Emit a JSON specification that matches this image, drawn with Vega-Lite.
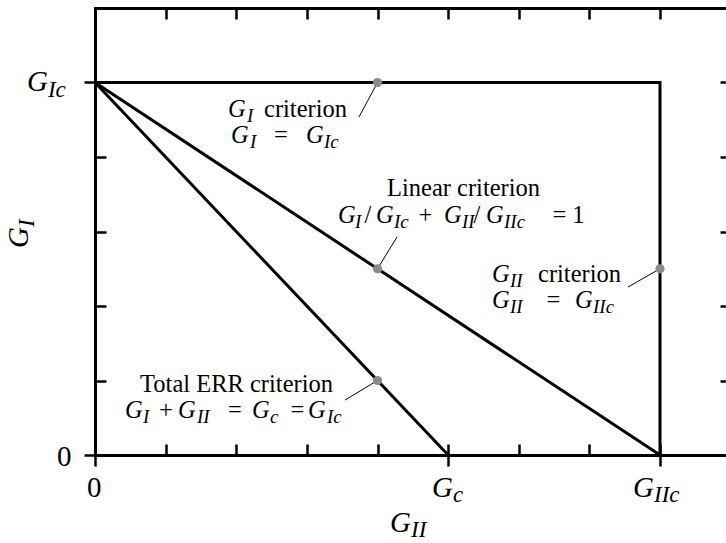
{
  "$schema": "https://vega.github.io/schema/vega-lite/v6.json",
  "width": 631,
  "height": 447,
  "autosize": {"type": "none"},
  "padding": {"left": 95, "top": 8, "right": 0, "bottom": 88},
  "background": "white",
  "config": {
    "font": "Liberation Serif",
    "view": {"stroke": null},
    "axis": {"grid": false, "labels": false, "domainColor": "black", "tickColor": "black", "domainWidth": 3, "tickWidth": 2.5, "domainCap": "square"},
    "text": {"font": "Liberation Serif", "fill": "black"}
  },
  "datasets": {
    "paths": [
      {"path": "GI and GII criteria", "k": 0, "x": 0, "y": 5},
      {"path": "GI and GII criteria", "k": 1, "x": 8, "y": 5},
      {"path": "GI and GII criteria", "k": 2, "x": 8, "y": 0},
      {"path": "Linear criterion", "k": 0, "x": 0, "y": 5},
      {"path": "Linear criterion", "k": 1, "x": 8, "y": 0},
      {"path": "Total ERR criterion", "k": 0, "x": 0, "y": 5},
      {"path": "Total ERR criterion", "k": 1, "x": 5, "y": 0}
    ],
    "markers": [
      {"x": 4, "y": 5},
      {"x": 4, "y": 2.5},
      {"x": 4, "y": 1},
      {"x": 8, "y": 2.5}
    ],
    "leaders": [
      {"x": 4, "y": 5, "x2": 3.738, "y2": 4.537},
      {"x": 4, "y": 2.5, "x2": 4.276, "y2": 2.926},
      {"x": 8, "y": 2.5, "x2": 7.547, "y2": 2.255},
      {"x": 4, "y": 1, "x2": 3.54, "y2": 0.738}
    ],
    "words": [
      {"x": 2.393, "y": 4.537, "t": "criterion"},
      {"x": 6.273, "y": 2.322, "t": "criterion"}
    ],
    "operators": [
      {"x": 2.634, "y": 4.188, "t": "="},
      {"x": 3.865, "y": 3.114, "t": "/"},
      {"x": 4.68, "y": 3.114, "t": "+"},
      {"x": 5.409, "y": 3.114, "t": "/"},
      {"x": 6.577, "y": 3.114, "t": "="},
      {"x": 6.846, "y": 3.114, "t": "1"},
      {"x": 6.492, "y": 1.973, "t": "="},
      {"x": 1.005, "y": 0.497, "t": "+"},
      {"x": 1.982, "y": 0.497, "t": "="},
      {"x": 2.867, "y": 0.497, "t": "="},
      {"x": 5.218, "y": 3.477, "t": "Linear criterion"},
      {"x": 2.004, "y": 0.846, "t": "Total ERR criterion"}
    ],
    "italic": [
      {"x": 1.883, "y": 4.537, "t": "G"},
      {"x": 1.926, "y": 4.188, "t": "G"},
      {"x": 2.988, "y": 4.188, "t": "G"},
      {"x": 3.441, "y": 3.114, "t": "G"},
      {"x": 3.979, "y": 3.114, "t": "G"},
      {"x": 4.942, "y": 3.114, "t": "G"},
      {"x": 5.536, "y": 3.114, "t": "G"},
      {"x": 5.621, "y": 2.322, "t": "G"},
      {"x": 5.621, "y": 1.973, "t": "G"},
      {"x": 6.796, "y": 1.973, "t": "G"},
      {"x": 0.425, "y": 0.497, "t": "G"},
      {"x": 1.175, "y": 0.497, "t": "G"},
      {"x": 2.223, "y": 0.497, "t": "G"},
      {"x": 3.016, "y": 0.497, "t": "G"}
    ],
    "subscripts": [
      {"x": 2.152, "y": 4.47, "t": "I"},
      {"x": 2.195, "y": 4.121, "t": "I"},
      {"x": 3.242, "y": 4.121, "t": "Ic"},
      {"x": 3.681, "y": 3.047, "t": "I"},
      {"x": 4.234, "y": 3.047, "t": "Ic"},
      {"x": 5.197, "y": 3.047, "t": "II"},
      {"x": 5.791, "y": 3.047, "t": "IIc"},
      {"x": 5.876, "y": 2.255, "t": "II"},
      {"x": 5.876, "y": 1.906, "t": "II"},
      {"x": 7.051, "y": 1.906, "t": "IIc"},
      {"x": 0.68, "y": 0.43, "t": "I"},
      {"x": 1.444, "y": 0.43, "t": "II"},
      {"x": 2.478, "y": 0.43, "t": "c"},
      {"x": 3.285, "y": 0.43, "t": "Ic"}
    ],
    "axisItalic": [
      {"x": -0.963, "y": 4.886, "t": "G"},
      {"x": 4.772, "y": -0.564, "t": "G"},
      {"x": 7.618, "y": -0.564, "t": "G"},
      {"x": 4.177, "y": -1.034, "t": "G"}
    ],
    "axisSubscripts": [
      {"x": -0.666, "y": 4.805, "t": "Ic"},
      {"x": 5.069, "y": -0.631, "t": "c"},
      {"x": 7.915, "y": -0.631, "t": "IIc"},
      {"x": 4.474, "y": -1.101, "t": "II"}
    ],
    "axisUpright": [
      {"x": -0.538, "y": -0.148, "t": "0"},
      {"x": -0.113, "y": -0.564, "t": "0"}
    ],
    "yTitle": [{"x": -0.949, "y": 2.779, "t": "G"}],
    "yTitleSub": [{"x": -0.864, "y": 3.06, "t": "I"}]
  },
  "resolve": {"axis": {"x": "independent", "y": "independent"}},
  "layer": [
    {
      "data": {"name": "paths"},
      "mark": {"type": "line", "color": "black", "strokeWidth": 3, "strokeJoin": "miter"},
      "encoding": {
        "x": {"field": "x", "type": "quantitative", "scale": {"domain": [0, 8.9345], "nice": false, "zero": false},
              "axis": {"orient": "bottom", "values": [0, 1, 2, 3, 4, 5, 6, 7, 8], "tickSize": -11, "title": null}},
        "y": {"field": "y", "type": "quantitative", "scale": {"domain": [0, 6], "nice": false, "zero": false},
              "axis": {"orient": "left", "values": [0, 1, 2, 3, 4, 5, 6], "tickSize": -11, "title": null}},
        "detail": {"field": "path"},
        "order": {"field": "k"}
      }
    },
    {
      "data": {"name": "leaders"},
      "mark": {"type": "rule", "color": "black", "strokeWidth": 1},
      "encoding": {
        "x": {"field": "x", "type": "quantitative", "scale": {"domain": [0, 8.9345], "nice": false, "zero": false},
              "axis": {"orient": "top", "values": [0, 1, 2, 3, 4, 5, 6, 7, 8], "tickSize": -11, "title": null}},
        "y": {"field": "y", "type": "quantitative", "scale": {"domain": [0, 6], "nice": false, "zero": false},
              "axis": {"orient": "right", "values": [0, 1, 2, 3, 4, 5, 6], "tickSize": -11, "offset": 5, "title": null}},
        "x2": {"field": "x2"},
        "y2": {"field": "y2"}
      }
    },
    {
      "data": {"name": "markers"},
      "mark": {"type": "circle", "color": "#8a8a8a", "size": 85, "opacity": 1},
      "encoding": {
        "x": {"field": "x", "type": "quantitative", "scale": {"domain": [0, 8.9345], "nice": false, "zero": false},
              "axis": {"orient": "bottom", "values": [0, 5, 8], "tickSize": 11, "domain": false, "title": null}},
        "y": {"field": "y", "type": "quantitative", "scale": {"domain": [0, 6], "nice": false, "zero": false},
              "axis": {"orient": "left", "values": [0, 5], "tickSize": 11, "domain": false, "title": null}}
      }
    },
    {
      "data": {"name": "words"},
      "mark": {"type": "text", "font": "Liberation Serif", "fontSize": 24.5, "align": "left", "baseline": "alphabetic"},
      "encoding": {
        "x": {"field": "x", "type": "quantitative", "axis": null},
        "y": {"field": "y", "type": "quantitative", "axis": null},
        "text": {"field": "t"}
      }
    },
    {
      "data": {"name": "operators"},
      "mark": {"type": "text", "font": "Liberation Serif", "fontSize": 24.5, "align": "center", "baseline": "alphabetic"},
      "encoding": {
        "x": {"field": "x", "type": "quantitative", "axis": null},
        "y": {"field": "y", "type": "quantitative", "axis": null},
        "text": {"field": "t"}
      }
    },
    {
      "data": {"name": "italic"},
      "mark": {"type": "text", "font": "Liberation Serif", "fontSize": 24.5, "fontStyle": "italic", "align": "left", "baseline": "alphabetic"},
      "encoding": {
        "x": {"field": "x", "type": "quantitative", "axis": null},
        "y": {"field": "y", "type": "quantitative", "axis": null},
        "text": {"field": "t"}
      }
    },
    {
      "data": {"name": "subscripts"},
      "mark": {"type": "text", "font": "Liberation Serif", "fontSize": 19, "fontStyle": "italic", "align": "left", "baseline": "alphabetic"},
      "encoding": {
        "x": {"field": "x", "type": "quantitative", "axis": null},
        "y": {"field": "y", "type": "quantitative", "axis": null},
        "text": {"field": "t"}
      }
    },
    {
      "data": {"name": "axisItalic"},
      "mark": {"type": "text", "font": "Liberation Serif", "fontSize": 29, "fontStyle": "italic", "align": "left", "baseline": "alphabetic"},
      "encoding": {
        "x": {"field": "x", "type": "quantitative", "axis": null},
        "y": {"field": "y", "type": "quantitative", "axis": null},
        "text": {"field": "t"}
      }
    },
    {
      "data": {"name": "axisSubscripts"},
      "mark": {"type": "text", "font": "Liberation Serif", "fontSize": 23, "fontStyle": "italic", "align": "left", "baseline": "alphabetic"},
      "encoding": {
        "x": {"field": "x", "type": "quantitative", "axis": null},
        "y": {"field": "y", "type": "quantitative", "axis": null},
        "text": {"field": "t"}
      }
    },
    {
      "data": {"name": "axisUpright"},
      "mark": {"type": "text", "font": "Liberation Serif", "fontSize": 29, "align": "left", "baseline": "alphabetic"},
      "encoding": {
        "x": {"field": "x", "type": "quantitative", "axis": null},
        "y": {"field": "y", "type": "quantitative", "axis": null},
        "text": {"field": "t"}
      }
    },
    {
      "data": {"name": "yTitle"},
      "mark": {"type": "text", "font": "Liberation Serif", "fontSize": 29, "fontStyle": "italic", "align": "left", "baseline": "alphabetic", "angle": 270},
      "encoding": {
        "x": {"field": "x", "type": "quantitative", "axis": null},
        "y": {"field": "y", "type": "quantitative", "axis": null},
        "text": {"field": "t"}
      }
    },
    {
      "data": {"name": "yTitleSub"},
      "mark": {"type": "text", "font": "Liberation Serif", "fontSize": 23, "fontStyle": "italic", "align": "left", "baseline": "alphabetic", "angle": 270},
      "encoding": {
        "x": {"field": "x", "type": "quantitative", "axis": null},
        "y": {"field": "y", "type": "quantitative", "axis": null},
        "text": {"field": "t"}
      }
    }
  ]
}
